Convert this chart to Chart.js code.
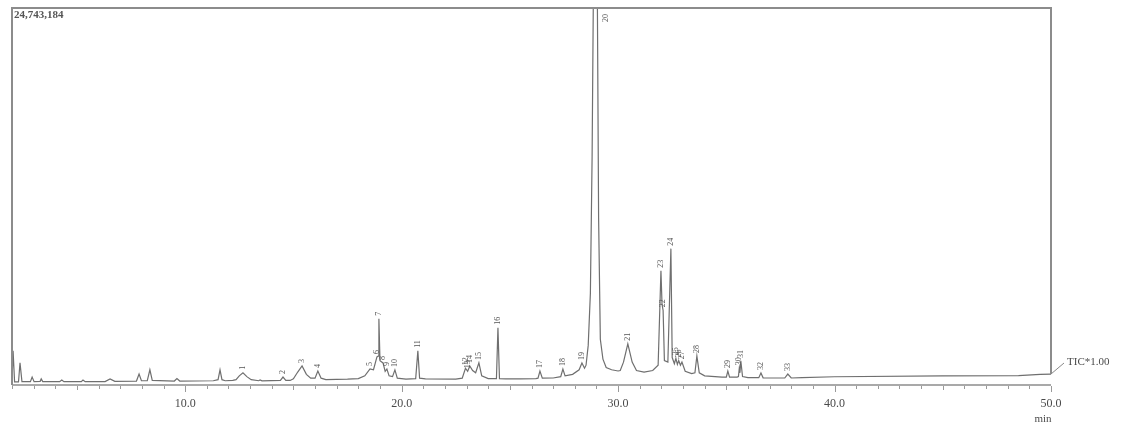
<!DOCTYPE html>
<html>
<head>
<meta charset="utf-8">
<title>TIC chromatogram</title>
<script src="https://cdn.jsdelivr.net/npm/chart.js@4.4.1/dist/chart.umd.min.js"></script>
<style>
  html, body { margin: 0; padding: 0; background: #ffffff; }
  #wrap { width: 1139px; height: 428px; position: relative; }
</style>
</head>
<body>
<div id="wrap"><canvas id="tic" width="1139" height="428"></canvas></div>
<script>
// Retention time (min) of each trace point
const retentionTimes = [
  2.00, 2.05, 2.12, 2.30, 2.37, 2.46, 2.85, 2.93, 3.02, 3.30, 3.35, 3.42,
  4.20, 4.30, 4.40, 5.20, 5.28, 5.38, 6.30, 6.53, 6.75, 7.75, 7.87, 7.98,
  8.25, 8.37, 8.48, 9.50, 9.62, 9.75, 11.30, 11.52, 11.61, 11.70, 11.85, 12.20,
  12.35, 12.50, 12.67, 12.85, 13.05, 13.40, 13.46, 13.55, 14.40, 14.52, 14.65, 14.85,
  15.00, 15.20, 15.40, 15.60, 15.80, 16.00, 16.13, 16.28, 16.50, 17.50,
  18.00, 18.30, 18.54, 18.70, 18.86, 18.92, 18.95, 19.00, 19.14, 19.24, 19.32, 19.42,
  19.58, 19.69, 19.80, 20.20, 20.65, 20.75, 20.83, 21.10, 22.50,
  22.80, 22.95, 23.05, 23.15, 23.28, 23.42, 23.57, 23.70, 24.00,
  24.38, 24.45, 24.52, 24.80, 25.50, 26.20, 26.30, 26.39, 26.50, 27.00,
  27.35, 27.45, 27.55, 27.90, 28.20, 28.33, 28.45,
  28.52, 28.62, 28.72, 28.80, 28.86, 28.95, 29.04, 29.10, 29.18, 29.30, 29.45, 29.70, 30.00,
  30.10, 30.25, 30.45, 30.65, 30.85, 31.20, 31.60, 31.85, 31.98, 32.03, 32.08, 32.14,
  32.30, 32.44, 32.50, 32.60, 32.67, 32.74, 32.80, 32.88, 32.95, 33.10, 33.40,
  33.55, 33.64, 33.75, 34.00, 34.80, 35.00, 35.07, 35.15, 35.50,
  35.56, 35.60, 35.63, 35.67, 35.75, 36.00, 36.50, 36.60, 36.70, 37.50,
  37.70, 37.84, 38.00, 38.50, 40.00, 45.00, 48.50, 49.50, 50.00
];

// Total ion current at each retention time
const intensities = [
  200000, 2240000, 200000, 200000, 1450000, 220000, 220000, 520000, 220000, 240000, 400000, 220000,
  220000, 330000, 220000, 220000, 330000, 220000, 220000, 400000, 240000, 260000, 720000, 280000,
  280000, 1000000, 300000, 260000, 420000, 260000, 280000, 350000, 1000000, 350000, 280000, 300000,
  350000, 600000, 800000, 550000, 350000, 280000, 330000, 270000, 300000, 520000, 300000, 300000,
  400000, 850000, 1250000, 700000, 450000, 450000, 920000, 450000, 350000, 380000,
  420000, 600000, 1050000, 1000000, 1840000, 1900000, 4340000, 1600000, 1450000, 900000, 1050000, 600000,
  550000, 990000, 450000, 380000, 420000, 2240000, 450000, 400000, 380000,
  450000, 1100000, 900000, 1250000, 950000, 800000, 1450000, 600000, 420000,
  420000, 3750000, 420000, 400000, 400000, 420000, 450000, 920000, 450000, 460000,
  550000, 1050000, 600000, 700000, 1000000, 1450000, 1100000,
  1300000, 2600000, 6000000, 15000000, 26000000, 42000000, 26000000, 11000000, 3000000, 1700000, 1150000, 1000000, 920000,
  950000, 1500000, 2700000, 1500000, 950000, 850000, 950000, 1300000, 7500000, 5300000, 4900000, 1600000,
  1500000, 8950000, 1800000, 1400000, 1750000, 1350000, 1600000, 1300000, 1500000, 900000, 750000,
  800000, 1900000, 800000, 600000, 520000, 520000, 920000, 520000, 520000,
  550000, 1100000, 800000, 1580000, 550000, 480000, 480000, 790000, 470000, 460000,
  460000, 720000, 460000, 480000, 540000, 600000, 620000, 700000, 720000
];

// Numbered peaks and their retention times
const peakNumbers = [
  1, 2, 3, 4, 5, 6, 7, 8, 9, 10, 11, 12, 13, 14, 15, 16, 17,
  18, 19, 20, 21, 22, 23, 24, 25, 26, 27, 28, 29, 30, 31, 32, 33
];
const peakTimes = [
  12.67, 14.52, 15.40, 16.13, 18.54, 18.86, 18.95, 19.14, 19.32, 19.69, 20.75, 22.95, 23.05, 23.15, 23.57, 24.45, 26.39,
  27.45, 28.33, 28.95, 30.45, 32.08, 31.98, 32.44, 32.67, 32.80, 32.95, 33.64, 35.07, 35.60, 35.67, 36.60, 37.84
];

// Axis settings
const timeMin = 2.0;
const timeMax = 50.0;
const fullScale = 24743184;
const labelTimes = [10, 20, 30, 40, 50];

const SERIF = '"Liberation Serif", "DejaVu Serif", serif';
const frameColor = '#8c8c8c';
const traceColor = '#6f6f6f';
const textColor = '#4a4a4a';

const points = retentionTimes.map((t, i) => ({ x: t, y: intensities[i] }));

// Frame, time axis, peak numbers and captions
const chromPlugin = {
  id: 'chromDecor',
  afterDatasetsDraw(chart) {
    const { ctx, chartArea: a, scales } = chart;
    const xs = scales.x, ys = scales.y;
    ctx.save();

    // frame
    ctx.strokeStyle = frameColor;
    ctx.lineWidth = 2;
    ctx.beginPath();
    ctx.moveTo(a.left, a.bottom);
    ctx.lineTo(a.left, a.top);
    ctx.lineTo(a.right, a.top);
    const endY = ys.getPixelForValue(intensities[intensities.length - 1]);
    ctx.lineTo(a.right, endY);
    ctx.stroke();

    // time axis line
    ctx.lineWidth = 1.5;
    ctx.beginPath();
    ctx.moveTo(a.left, a.bottom);
    ctx.lineTo(a.right, a.bottom);
    ctx.stroke();

    // ticks every minute, longer every five
    ctx.lineWidth = 1;
    ctx.strokeStyle = '#9a9a9a';
    for (let m = Math.ceil(timeMin); m <= timeMax; m++) {
      const px = Math.round(xs.getPixelForValue(m)) + 0.5;
      const len = m % 10 === 0 ? 6 : (m % 5 === 0 ? 4 : 3);
      ctx.beginPath();
      ctx.moveTo(px, a.bottom + 1);
      ctx.lineTo(px, a.bottom + 1 + len);
      ctx.stroke();
    }

    // tick labels
    ctx.fillStyle = textColor;
    ctx.font = '12px ' + SERIF;
    ctx.textAlign = 'center';
    ctx.textBaseline = 'middle';
    labelTimes.forEach(m => {
      ctx.fillText(m.toFixed(1), xs.getPixelForValue(m), a.bottom + 19);
    });
    ctx.font = '11px ' + SERIF;
    ctx.fillText('min', xs.getPixelForValue(timeMax) - 8, a.bottom + 34);

    // full-scale caption
    ctx.font = 'bold 11px ' + SERIF;
    ctx.fillStyle = '#555555';
    ctx.textAlign = 'left';
    ctx.fillText(fullScale.toLocaleString('en-US'), a.left + 2, a.top + 7);

    // trace name with leader
    ctx.strokeStyle = '#888888';
    ctx.lineWidth = 1;
    ctx.beginPath();
    ctx.moveTo(a.right, endY);
    ctx.lineTo(a.right + 13, endY - 11);
    ctx.stroke();
    ctx.font = '11px ' + SERIF;
    ctx.fillStyle = textColor;
    ctx.fillText('TIC*1.00', a.right + 16, endY - 12);

    // peak numbers, rotated
    ctx.font = '8px ' + SERIF;
    ctx.fillStyle = '#555555';
    peakNumbers.forEach((n, i) => {
      const t = peakTimes[i];
      const k = retentionTimes.indexOf(t);
      const px = xs.getPixelForValue(t);
      let py = ys.getPixelForValue(intensities[k]) - 3;
      let lx = px;
      if (py < a.top + 14) { lx = px + 11; py = a.top + 14; }
      ctx.save();
      ctx.translate(lx, py);
      ctx.rotate(-Math.PI / 2);
      ctx.textAlign = 'left';
      ctx.textBaseline = 'middle';
      ctx.fillText(String(n), 0, 0);
      ctx.restore();
    });

    ctx.restore();
  }
};

new Chart(document.getElementById('tic'), {
  type: 'line',
  data: {
    datasets: [{
      label: 'TIC',
      data: points,
      borderColor: traceColor,
      borderWidth: 1.2,
      pointRadius: 0,
      tension: 0,
      fill: false
    }]
  },
  options: {
    responsive: false,
    animation: false,
    layout: { padding: { left: 12, top: 8, right: 88, bottom: 43 } },
    plugins: { legend: { display: false }, tooltip: { enabled: false } },
    scales: {
      x: { type: 'linear', min: timeMin, max: timeMax, display: false },
      y: { type: 'linear', min: 0, max: fullScale, display: false }
    }
  },
  plugins: [chromPlugin]
});
</script>
</body>
</html>
